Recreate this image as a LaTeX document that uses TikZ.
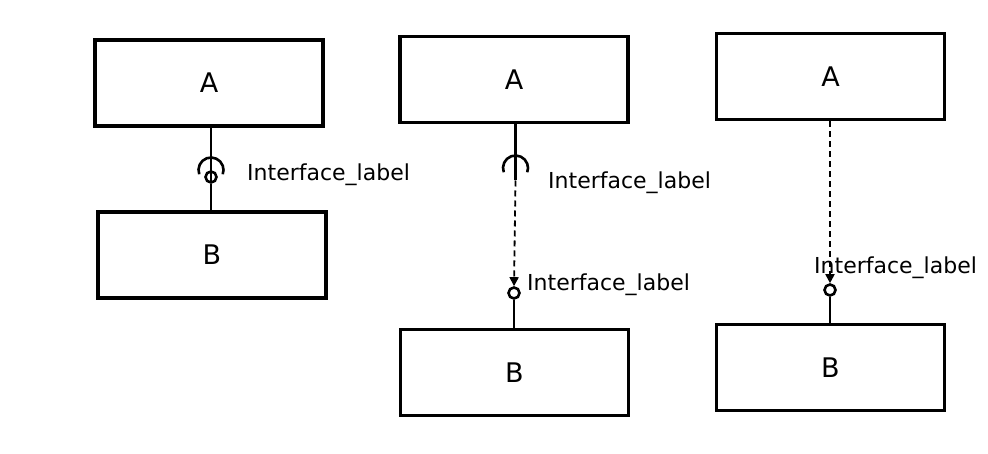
\documentclass[tikz,border=0pt]{standalone}
\usepackage{fontspec}
\setmainfont{DejaVu Sans}
\usetikzlibrary{positioning, arrows.meta}

\begin{document}
\begin{tikzpicture}[x=1pt, y=-1pt,
        box/.style={draw, line width=3.4pt, minimum width=228pt, minimum height=86pt, font=\fontsize{27}{32}\selectfont},
        ball/.style={draw, circle, line width=2.6pt, minimum size=11pt, inner sep=0pt},
        lbl/.style={anchor=west, inner sep=0pt, font=\fontsize{22}{26}\selectfont},
        wire/.style={line width=2.6pt},
        dep/.style={line width=1.8pt, dash pattern=on 6pt off 4pt, -{Triangle[length=9pt, width=9pt]}}]

        \def\socket#1{([shift={(160:12.5)}]#1) arc[start angle=160, end angle=380, radius=12.5]}

        \useasboundingbox (0,0) rectangle (988,454);

        % assembly
        \node[box] (A1) at (209,83) {A};
        \node[box] (B1) at (212,255) {B};
        \coordinate (sock1) at (211,170);
        \node[ball] (ball1) at (211,177) {};
        \node[lbl] (lbl1) at (247,175) {Interface\_label};
        \draw[wire] \socket{sock1};
        \draw[wire] (sock1 |- A1.south) -- ([yshift=-12.5pt]sock1);
        \draw[wire] (ball1.south) -- (ball1.south |- B1.north);

        % required and provided, dependency
        \node[box] (A2) at (514,79.5) {A};
        \node[box] (B2) at (514.5,372.5) {B};
        \coordinate (sock2) at (515.5,168);
        \node[ball] (ball2) at (514,293) {};
        \node[lbl] (lbl2) at (548,183) {Interface\_label};
        \node[lbl] (lbl3) at (527,285) {Interface\_label};
        \draw[wire] \socket{sock2};
        \draw[wire] (sock2 |- A2.south) -- ([yshift=-12.5pt]sock2);
        \draw[dep] ([yshift=-12.5pt]sock2) -- (ball2.north);
        \draw[wire] (ball2.south) -- (ball2.south |- B2.north);

        % provided only
        \node[box] (A3) at (830.5,76.5) {A};
        \node[box] (B3) at (830.5,367.5) {B};
        \node[ball] (ball3) at (830,290) {};
        \node[lbl] (lbl4) at (814,268) {Interface\_label};
        \draw[dep] (ball3.north |- A3.south) -- (ball3.north);
        \draw[wire] (ball3.south) -- (ball3.south |- B3.north);
\end{tikzpicture}
\end{document}
